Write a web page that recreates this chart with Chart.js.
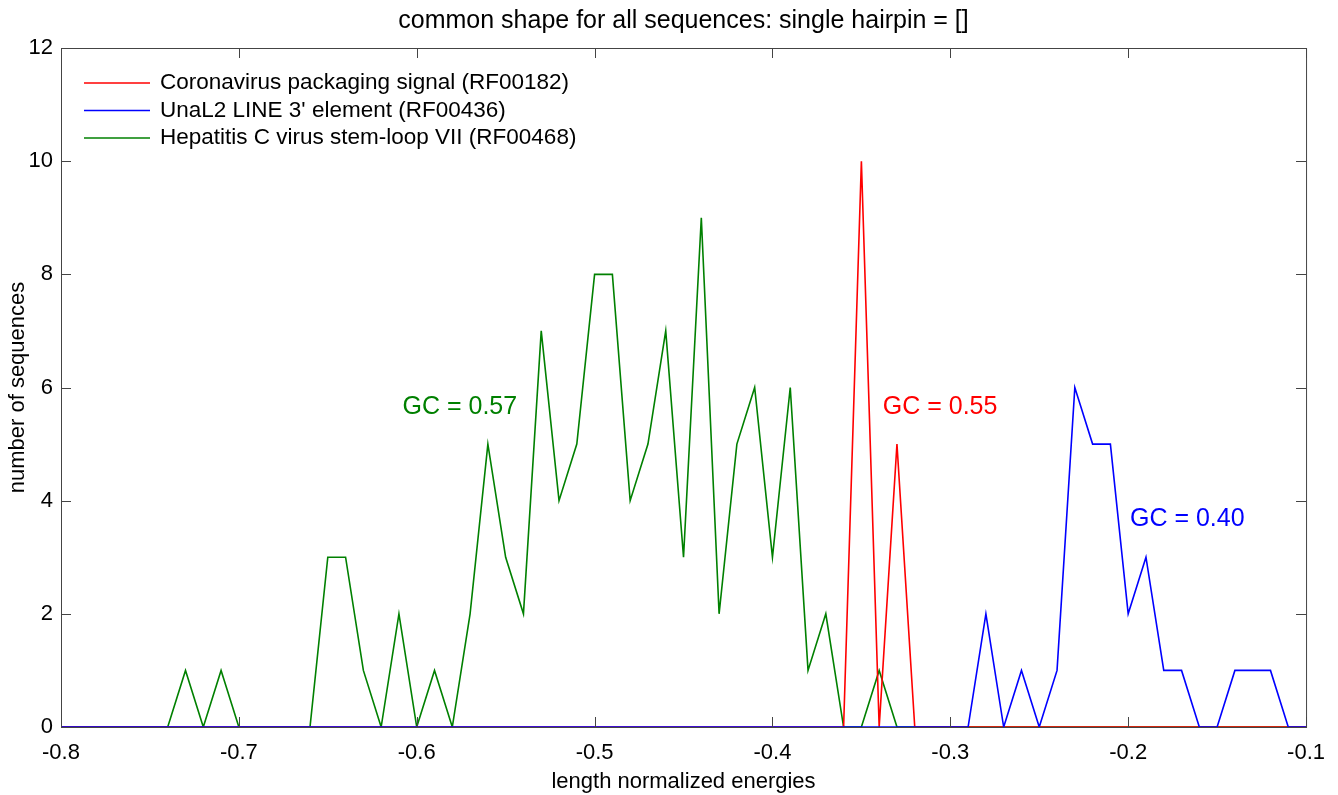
<!DOCTYPE html>
<html>
<head>
<meta charset="utf-8">
<script src="https://cdn.jsdelivr.net/npm/chart.js@4/dist/chart.umd.min.js"></script>
<style>
  html, body { margin: 0; padding: 0; background: #fff; }
  #wrap { width: 1338px; height: 795px; }
</style>
</head>
<body>
<div id="wrap"><canvas id="myChart" width="1338" height="795"></canvas></div>
<script>
// energy bins (length normalized energies)
const energies = [
  -0.80, -0.79, -0.78, -0.77, -0.76, -0.75, -0.74, -0.73, -0.72, -0.71,
  -0.70, -0.69, -0.68, -0.67, -0.66, -0.65, -0.64, -0.63, -0.62, -0.61,
  -0.60, -0.59, -0.58, -0.57, -0.56, -0.55, -0.54, -0.53, -0.52, -0.51,
  -0.50, -0.49, -0.48, -0.47, -0.46, -0.45, -0.44, -0.43, -0.42, -0.41,
  -0.40, -0.39, -0.38, -0.37, -0.36, -0.35, -0.34, -0.33, -0.32, -0.31,
  -0.30, -0.29, -0.28, -0.27, -0.26, -0.25, -0.24, -0.23, -0.22, -0.21,
  -0.20, -0.19, -0.18, -0.17, -0.16, -0.15, -0.14, -0.13, -0.12, -0.11,
  -0.10
];

// number of sequences per bin
const corona_counts = [
  0, 0, 0, 0, 0, 0, 0, 0, 0, 0,
  0, 0, 0, 0, 0, 0, 0, 0, 0, 0,
  0, 0, 0, 0, 0, 0, 0, 0, 0, 0,
  0, 0, 0, 0, 0, 0, 0, 0, 0, 0,
  0, 0, 0, 0, 0, 10, 0, 5, 0, 0,
  0, 0, 0, 0, 0, 0, 0, 0, 0, 0,
  0, 0, 0, 0, 0, 0, 0, 0, 0, 0,
  0
];
const unal2_counts = [
  0, 0, 0, 0, 0, 0, 0, 0, 0, 0,
  0, 0, 0, 0, 0, 0, 0, 0, 0, 0,
  0, 0, 0, 0, 0, 0, 0, 0, 0, 0,
  0, 0, 0, 0, 0, 0, 0, 0, 0, 0,
  0, 0, 0, 0, 0, 0, 0, 0, 0, 0,
  0, 0, 2, 0, 1, 0, 1, 6, 5, 5,
  2, 3, 1, 1, 0, 0, 1, 1, 1, 0,
  0
];
const hcv_counts = [
  0, 0, 0, 0, 0, 0, 0, 1, 0, 1,
  0, 0, 0, 0, 0, 3, 3, 1, 0, 2,
  0, 1, 0, 2, 5, 3, 2, 7, 4, 5,
  8, 8, 4, 5, 7, 3, 9, 2, 5, 6,
  3, 6, 1, 2, 0, 0, 1, 0, 0, 0,
  0, 0, 0, 0, 0, 0, 0, 0, 0, 0,
  0, 0, 0, 0, 0, 0, 0, 0, 0, 0,
  0
];

const series_names = [
  'Coronavirus packaging signal (RF00182)',
  "UnaL2 LINE 3' element (RF00436)",
  'Hepatitis C virus stem-loop VII (RF00468)'
];
const series_colors = ['#ff0000', '#0000ff', '#008000'];

// GC content labels: [text, x, y]
const gc_labels = [
  ['GC = 0.57', -0.608, 5.65],
  ['GC = 0.55', -0.338, 5.65],
  ['GC = 0.40', -0.199, 3.67]
];

const x_ticks = [-0.8, -0.7, -0.6, -0.5, -0.4, -0.3, -0.2, -0.1];
const y_ticks = [0, 2, 4, 6, 8, 10, 12];

const FONT = 'Liberation Sans, Arial, Helvetica, sans-serif';

function toPoints(counts) {
    return energies.map((e, i) => ({ x: e, y: counts[i] }));
}

// frame, inward ticks, titles, legend and GC labels
const gnuplotStyle = {
    id: 'gnuplotStyle',
    afterDraw(chart) {
        const ctx = chart.ctx;
        const area = chart.chartArea;
        const xs = chart.scales.x;
        const ys = chart.scales.y;
        const tick_len = 10;

        ctx.save();
        ctx.strokeStyle = '#444';
        ctx.lineWidth = 1;
        ctx.strokeRect(area.left + 0.5, area.top + 0.5, area.right - area.left, area.bottom - area.top);

        ctx.beginPath();
        x_ticks.forEach(v => {
            const px = Math.round(xs.getPixelForValue(v)) + 0.5;
            ctx.moveTo(px, area.bottom);
            ctx.lineTo(px, area.bottom - tick_len);
            ctx.moveTo(px, area.top);
            ctx.lineTo(px, area.top + tick_len);
        });
        y_ticks.forEach(v => {
            const py = Math.round(ys.getPixelForValue(v)) + 0.5;
            ctx.moveTo(area.left, py);
            ctx.lineTo(area.left + tick_len, py);
            ctx.moveTo(area.right, py);
            ctx.lineTo(area.right - tick_len, py);
        });
        ctx.stroke();

        ctx.fillStyle = '#000';
        ctx.textAlign = 'center';
        ctx.textBaseline = 'middle';

        // title
        ctx.font = '25px ' + FONT;
        ctx.fillText('common shape for all sequences: single hairpin = []', (area.left + area.right) / 2, 21);

        // x axis title
        ctx.font = '22px ' + FONT;
        ctx.fillText('length normalized energies', (area.left + area.right) / 2, 782);

        // y axis title
        ctx.save();
        ctx.translate(18, (area.top + area.bottom) / 2);
        ctx.rotate(-Math.PI / 2);
        ctx.fillText('number of sequences', 0, 0);
        ctx.restore();

        // legend
        ctx.font = '22.5px ' + FONT;
        ctx.textAlign = 'left';
        series_names.forEach((name, i) => {
            const ly = 83 + i * 27.5;
            ctx.strokeStyle = series_colors[i];
            ctx.lineWidth = 1.5;
            ctx.beginPath();
            ctx.moveTo(84, ly);
            ctx.lineTo(150, ly);
            ctx.stroke();
            ctx.fillStyle = '#000';
            ctx.fillText(name, 160, ly);
        });

        // GC labels
        ctx.font = '25px ' + FONT;
        const gc_colors = [series_colors[2], series_colors[0], series_colors[1]];
        gc_labels.forEach((lab, i) => {
            ctx.fillStyle = gc_colors[i];
            ctx.fillText(lab[0], xs.getPixelForValue(lab[1]), ys.getPixelForValue(lab[2]));
        });
        ctx.restore();
    }
};

const ctx = document.getElementById('myChart').getContext('2d');

const chart = new Chart(ctx, {
    type: 'line',
    data: {
        datasets: [
            { label: series_names[0], data: toPoints(corona_counts), borderColor: series_colors[0], order: 2 },
            { label: series_names[1], data: toPoints(unal2_counts), borderColor: series_colors[1], order: 1 },
            { label: series_names[2], data: toPoints(hcv_counts), borderColor: series_colors[2], order: 3 }
        ]
    },
    options: {
        responsive: false,
        animation: false,
        devicePixelRatio: 1,
        layout: { padding: { left: 0, right: 30, top: 48, bottom: 0 } },
        elements: {
            line: { borderWidth: 1.6, tension: 0, fill: false },
            point: { radius: 0, hoverRadius: 0 }
        },
        plugins: {
            legend: { display: false },
            title: { display: false },
            tooltip: { enabled: false }
        },
        scales: {
            x: {
                type: 'linear',
                min: -0.8,
                max: -0.1,
                afterFit: scale => { scale.height = 68; },
                afterBuildTicks: scale => { scale.ticks = x_ticks.map(v => ({ value: v })); },
                grid: { display: false, drawTicks: false },
                border: { display: false },
                ticks: {
                    padding: 13,
                    color: '#000',
                    font: { family: FONT, size: 22 },
                    maxRotation: 0,
                    callback: v => v.toFixed(1)
                }
            },
            y: {
                min: 0,
                max: 12,
                afterFit: scale => { scale.width = 61; },
                afterBuildTicks: scale => { scale.ticks = y_ticks.map(v => ({ value: v })); },
                grid: { display: false, drawTicks: false },
                border: { display: false },
                ticks: {
                    padding: 8,
                    color: '#000',
                    font: { family: FONT, size: 22 },
                    callback: v => String(v)
                }
            }
        }
    },
    plugins: [gnuplotStyle]
});
</script>
</body>
</html>
